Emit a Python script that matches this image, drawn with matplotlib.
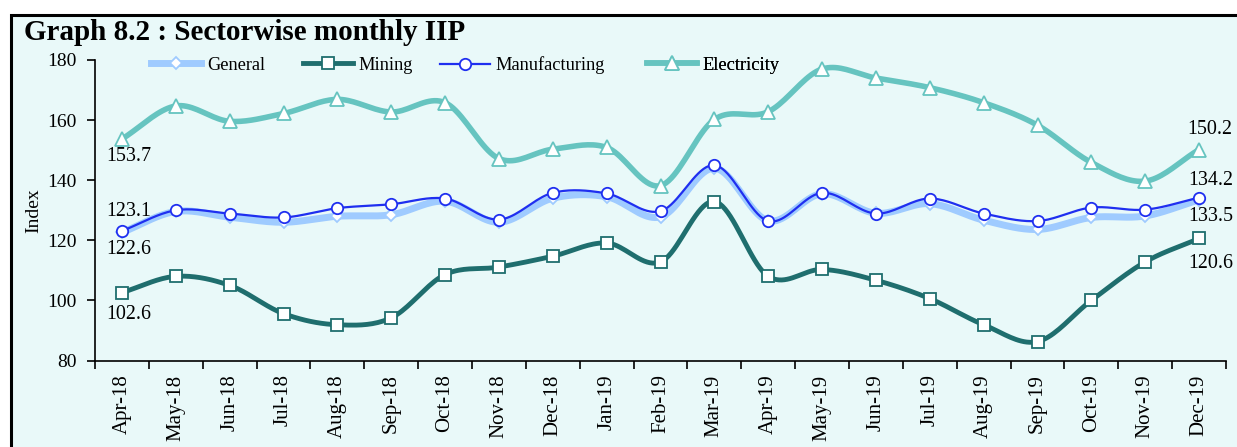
import numpy as np
import matplotlib.pyplot as plt
from matplotlib.patches import Rectangle

plt.rcParams['font.family'] = ['Liberation Serif', 'DejaVu Serif']

# months on the x axis
months = ["Apr-18", "May-18", "Jun-18", "Jul-18", "Aug-18", "Sep-18", "Oct-18",
          "Nov-18", "Dec-18", "Jan-19", "Feb-19", "Mar-19", "Apr-19", "May-19",
          "Jun-19", "Jul-19", "Aug-19", "Sep-19", "Oct-19", "Nov-19", "Dec-19"]

# index values
general = [122.6, 129.6, 127.7, 126.0, 128.0, 128.5, 133.0, 126.0, 134.0, 134.5, 127.8,
           144.0, 126.5, 135.5, 129.0, 132.2, 126.7, 123.6, 127.6, 128.1, 133.5]
mining = [102.6, 108.0, 105.0, 95.6, 91.9, 94.2, 108.6, 111.1, 114.7, 119.1, 112.8,
          132.9, 108.0, 110.3, 106.7, 100.6, 91.9, 86.3, 100.0, 112.8, 120.6]
manufacturing = [123.1, 130.0, 128.9, 127.6, 130.7, 132.0, 133.9, 126.9, 135.8, 135.6, 129.7,
                 145.0, 126.4, 135.8, 128.9, 133.9, 128.9, 126.4, 130.9, 130.2, 134.2]
electricity = [153.7, 164.7, 159.6, 162.2, 166.9, 162.7, 165.8, 147.2, 150.3, 150.9, 138.2,
               160.2, 162.8, 177.0, 174.0, 170.8, 165.8, 158.3, 145.9, 139.7, 150.2]

bg = "#e9f9f9"


# Excel style smoothed line (Catmull-Rom through the points)
def smooth(x, y, n=20):
    x = np.asarray(x, float)
    y = np.asarray(y, float)
    px = np.concatenate([[2 * x[0] - x[1]], x, [2 * x[-1] - x[-2]]])
    py = np.concatenate([[2 * y[0] - y[1]], y, [2 * y[-1] - y[-2]]])
    xs, ys = [], []
    t = np.linspace(0, 1, n, endpoint=False)
    for i in range(1, len(px) - 2):
        for p, out in ((px, xs), (py, ys)):
            p0, p1, p2, p3 = p[i - 1], p[i], p[i + 1], p[i + 2]
            out.extend(0.5 * (2 * p1 + (-p0 + p2) * t + (2 * p0 - 5 * p1 + 4 * p2 - p3) * t ** 2
                              + (-p0 + 3 * p1 - 3 * p2 + p3) * t ** 3))
    xs.append(x[-1])
    ys.append(y[-1])
    return xs, ys


fig = plt.figure(figsize=(12.37, 4.47), dpi=100)
fig.patch.set_facecolor("white")
fig.patches.append(Rectangle((11 / 1237, -0.1), 1.2, 1.1 - 15 / 447, transform=fig.transFigure,
                             facecolor=bg, edgecolor="black", linewidth=2.2, zorder=-1))

ax = fig.add_axes([95 / 1237, (447 - 360.5) / 447, (1226 - 95) / 1237, 300.5 / 447])
ax.set_facecolor(bg)

x = np.arange(len(months))
series = [
    ("General", general, "#9fcbff", 5.0, "D", 6.5),
    ("Mining", mining, "#1f6e6e", 3.5, "s", 8.5),
    ("Manufacturing", manufacturing, "#1f2ff0", 1.6, "o", 8.2),
    ("Electricity", electricity, "#66c4c0", 4.0, "^", 9.5),
]
for name, vals, col, lw, mk, ms in series:
    sx, sy = smooth(x, vals)
    ax.plot(sx, sy, color=col, linewidth=lw, solid_capstyle="round")
    ax.plot(x, vals, linestyle="none", marker=mk, markersize=ms, markerfacecolor="white",
            markeredgecolor=col, markeredgewidth=1.3)

# legend entries, each placed where it sits in the original
leg_x = [151, 303, 440, 647]
for (name, vals, col, lw, mk, ms), lx in zip(series, leg_x):
    h, = ax.plot([], [], color=col, linewidth=lw, marker=mk, markersize=ms,
                 markerfacecolor="white", markeredgecolor=col, markeredgewidth=1.3, label=name)
    leg = ax.legend(handles=[h], loc="center left", bbox_to_anchor=(lx / 1237, 1 - 65 / 447),
                    bbox_transform=fig.transFigure, frameon=False, fontsize=13.2,
                    handlelength=2.75, handletextpad=0.3, borderpad=0, borderaxespad=0)
    ax.add_artist(leg)

# end labels
lab_kw = dict(textcoords="offset pixels", ha="center", va="center", fontsize=14.4)
ax.annotate(f"{electricity[0]}", (x[0], electricity[0]), xytext=(7, -17), **lab_kw)
ax.annotate(f"{manufacturing[0]}", (x[0], manufacturing[0]), xytext=(7, 19), **lab_kw)
ax.annotate(f"{general[0]}", (x[0], general[0]), xytext=(7, -17), **lab_kw)
ax.annotate(f"{mining[0]}", (x[0], mining[0]), xytext=(7, -22), **lab_kw)
ax.annotate(f"{electricity[-1]}", (x[-1], electricity[-1]), xytext=(11, 20), **lab_kw)
ax.annotate(f"{manufacturing[-1]}", (x[-1], manufacturing[-1]), xytext=(12, 17), **lab_kw)
ax.annotate(f"{general[-1]}", (x[-1], general[-1]), xytext=(12, -17), **lab_kw)
ax.annotate(f"{mining[-1]}", (x[-1], mining[-1]), xytext=(12, -25), **lab_kw)

ax.set_xlim(-0.5, len(months) - 0.5)
ax.set_ylim(80, 180)
ax.set_yticks([80, 100, 120, 140, 160, 180])
ax.set_xticks(x)
ax.set_xticklabels(months, rotation=90, fontsize=15)
ax.set_xticks(np.arange(-0.5, len(months), 1), minor=True)
ax.tick_params(axis="x", which="major", length=0, pad=10)
ax.tick_params(axis="x", which="minor", length=6, width=1.2, direction="out")
ax.tick_params(axis="y", length=6, width=1.2, direction="out", labelsize=14, pad=7)
ax.set_ylabel("Index", fontsize=14, labelpad=4)
for side in ["top", "right"]:
    ax.spines[side].set_visible(False)
for side in ["left", "bottom"]:
    ax.spines[side].set_linewidth(1.2)

fig.text(24 / 1237, 1 - 33 / 447, "Graph 8.2 : Sectorwise monthly IIP", fontsize=21,
         fontweight="bold", va="center", ha="left")

fig.savefig("out.png", dpi=100, facecolor=fig.get_facecolor())
